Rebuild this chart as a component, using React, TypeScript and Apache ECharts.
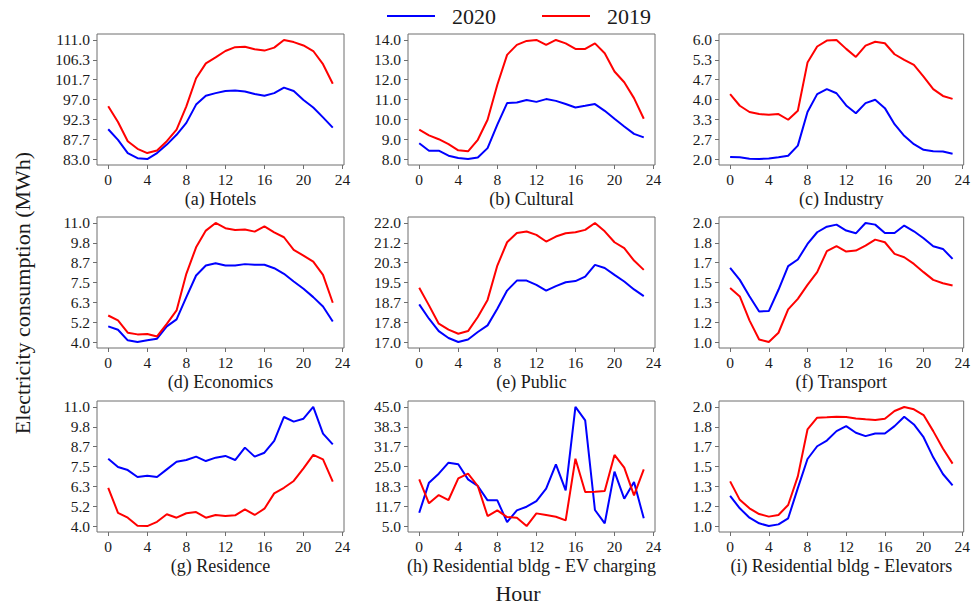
import React, { useEffect, useRef } from "react";
import * as echarts from "echarts";

// ---------------- DATA ----------------
const hours = [0, 1, 2, 3, 4, 5, 6, 7, 8, 9, 10, 11, 12, 13, 14, 15, 16, 17, 18, 19, 20, 21, 22, 23];
const xTicks = [0, 4, 8, 12, 16, 20, 24];
const seriesNames = ["2020", "2019"];

const panelTitles = [
  "(a) Hotels",
  "(b) Cultural",
  "(c) Industry",
  "(d) Economics",
  "(e) Public",
  "(f) Transport",
  "(g) Residence",
  "(h) Residential bldg - EV charging",
  "(i) Residential bldg - Elevators",
];

const hotels2020 = [90.0, 87.5, 84.4, 83.2, 83.0, 84.4, 86.4, 88.7, 91.5, 95.8, 97.9, 98.5, 99.0, 99.1, 98.9, 98.3, 97.9, 98.5, 99.8, 99.0, 96.9, 95.1, 92.8, 90.4];
const hotels2019 = [95.4, 91.7, 87.2, 85.4, 84.4, 85.0, 87.2, 89.9, 95.4, 102.0, 105.5, 106.9, 108.4, 109.3, 109.4, 108.8, 108.5, 109.2, 111.0, 110.5, 109.7, 108.4, 105.3, 100.7];
const hotelsTicks = ["83.0", "87.7", "92.3", "97.0", "101.7", "106.3", "111.0"];

const cultural2020 = [8.8, 8.42, 8.42, 8.17, 8.05, 8.0, 8.08, 8.55, 9.73, 10.82, 10.85, 10.97, 10.88, 11.02, 10.93, 10.77, 10.6, 10.68, 10.77, 10.43, 10.03, 9.64, 9.27, 9.09];
const cultural2019 = [9.48, 9.19, 9.0, 8.75, 8.44, 8.39, 8.97, 9.98, 11.74, 13.25, 13.75, 13.95, 14.0, 13.75, 14.0, 13.83, 13.55, 13.55, 13.83, 13.33, 12.41, 11.87, 11.07, 10.03];
const culturalTicks = ["8.0", "9.0", "10.0", "11.0", "12.0", "13.0", "14.0"];

const industry2020 = [2.07, 2.06, 2.01, 2.0, 2.02, 2.06, 2.11, 2.45, 3.58, 4.18, 4.35, 4.21, 3.8, 3.54, 3.88, 3.99, 3.71, 3.17, 2.78, 2.5, 2.31, 2.26, 2.25, 2.18];
const industry2019 = [4.18, 3.79, 3.58, 3.51, 3.49, 3.51, 3.32, 3.62, 5.24, 5.78, 5.98, 6.0, 5.7, 5.43, 5.81, 5.94, 5.89, 5.52, 5.33, 5.16, 4.77, 4.35, 4.12, 4.02];
const industryTicks = ["2.0", "2.7", "3.3", "4.0", "4.7", "5.3", "6.0"];

const economics2020 = [4.92, 4.72, 4.1, 4.0, 4.1, 4.2, 4.92, 5.33, 6.64, 7.91, 8.5, 8.63, 8.5, 8.5, 8.58, 8.54, 8.54, 8.34, 8.01, 7.56, 7.13, 6.64, 6.09, 5.21];
const economics2019 = [5.56, 5.27, 4.55, 4.45, 4.47, 4.33, 5.07, 5.86, 8.01, 9.57, 10.55, 11.0, 10.69, 10.59, 10.61, 10.49, 10.8, 10.45, 10.16, 9.42, 9.08, 8.73, 7.95, 6.31];
const economicsTicks = ["4.0", "5.2", "6.3", "7.5", "8.7", "9.8", "11.0"];

const public2020 = [18.58, 17.98, 17.46, 17.17, 17.0, 17.11, 17.42, 17.7, 18.4, 19.16, 19.58, 19.58, 19.4, 19.16, 19.35, 19.51, 19.56, 19.75, 20.24, 20.11, 19.82, 19.54, 19.21, 18.93];
const public2019 = [19.28, 18.54, 17.77, 17.52, 17.35, 17.46, 18.05, 18.77, 20.21, 21.19, 21.58, 21.64, 21.5, 21.22, 21.43, 21.57, 21.61, 21.71, 22.0, 21.65, 21.19, 20.94, 20.42, 20.03];
const publicTicks = ["17.0", "17.8", "18.7", "19.5", "20.3", "21.2", "22.0"];

const transport2020 = [1.623, 1.522, 1.385, 1.257, 1.26, 1.439, 1.637, 1.693, 1.824, 1.922, 1.969, 1.986, 1.936, 1.913, 2.0, 1.986, 1.916, 1.916, 1.978, 1.93, 1.872, 1.805, 1.782, 1.698];
const transport2019 = [1.453, 1.383, 1.182, 1.022, 1.0, 1.078, 1.274, 1.363, 1.48, 1.587, 1.763, 1.805, 1.76, 1.768, 1.81, 1.86, 1.838, 1.74, 1.712, 1.656, 1.587, 1.522, 1.494, 1.475];
const transportTicks = ["1.0", "1.2", "1.3", "1.5", "1.7", "1.8", "2.0"];

const residence2020 = [7.96, 7.47, 7.29, 6.88, 6.96, 6.88, 7.33, 7.78, 7.88, 8.08, 7.82, 8.02, 8.12, 7.88, 8.61, 8.08, 8.31, 9.0, 10.41, 10.14, 10.31, 11.0, 9.43, 8.8];
const residence2019 = [6.25, 4.78, 4.49, 4.02, 4.0, 4.25, 4.69, 4.49, 4.75, 4.82, 4.49, 4.65, 4.59, 4.63, 4.98, 4.65, 5.02, 5.92, 6.25, 6.65, 7.39, 8.18, 7.92, 6.61];
const residenceTicks = ["4.0", "5.2", "6.3", "7.5", "8.7", "9.8", "11.0"];

const ev2020 = [9.48, 19.57, 22.59, 26.29, 25.73, 20.69, 18.45, 13.63, 13.63, 6.34, 10.26, 11.5, 13.4, 17.55, 25.73, 16.99, 45.0, 40.52, 10.38, 5.9, 23.26, 14.19, 19.79, 7.58];
const ev2019 = [20.69, 12.62, 15.42, 13.74, 21.02, 22.59, 18.45, 8.36, 10.26, 8.02, 7.8, 5.0, 9.26, 8.7, 8.14, 6.9, 27.63, 16.43, 16.54, 16.76, 28.87, 24.61, 15.31, 24.05];
const evTicks = ["5.0", "11.7", "18.3", "25.0", "31.7", "38.3", "45.0"];

const elevators2020 = [1.254, 1.149, 1.07, 1.023, 1.0, 1.014, 1.065, 1.318, 1.563, 1.67, 1.718, 1.797, 1.839, 1.783, 1.755, 1.777, 1.777, 1.839, 1.918, 1.853, 1.746, 1.577, 1.437, 1.341];
const elevators2019 = [1.375, 1.22, 1.149, 1.101, 1.079, 1.093, 1.177, 1.417, 1.811, 1.91, 1.913, 1.918, 1.915, 1.904, 1.896, 1.89, 1.901, 1.966, 2.0, 1.98, 1.932, 1.797, 1.651, 1.524];
const elevatorsTicks = ["1.0", "1.2", "1.3", "1.5", "1.7", "1.8", "2.0"];

const values2020 = [hotels2020, cultural2020, industry2020, economics2020, public2020, transport2020, residence2020, ev2020, elevators2020];
const values2019 = [hotels2019, cultural2019, industry2019, economics2019, public2019, transport2019, residence2019, ev2019, elevators2019];
const yTickLabels = [hotelsTicks, culturalTicks, industryTicks, economicsTicks, publicTicks, transportTicks, residenceTicks, evTicks, elevatorsTicks];

// ---------------- STYLE / LAYOUT ----------------
const FONT = '"Liberation Serif", "Times New Roman", serif';
const TEXT = "#1a1a1a";
const FRAME = "#6e6e6e";
const BLUE = "#0000ff";
const RED = "#ff0000";
const colLefts = [97, 408, 719];
const rowTops = [34, 217, 401];
const PW = 247;
const PH = 131;

function buildOption() {
  const grids: any[] = [];
  const xAxes: any[] = [];
  const yAxes: any[] = [];
  const series: any[] = [];

  for (let i = 0; i < 9; i++) {
    const r = Math.floor(i / 3);
    const c = i % 3;
    grids.push({
      left: colLefts[c],
      top: rowTops[r],
      width: PW,
      height: PH,
      show: true,
      borderColor: FRAME,
      borderWidth: 1,
      backgroundColor: "transparent",
    });

    const labels = yTickLabels[i];
    const lo = parseFloat(labels[0]);
    const hi = parseFloat(labels[labels.length - 1]);
    const n = labels.length - 1;
    const tickPos = labels.map((_, k) => lo + ((hi - lo) * k) / n);
    const pad = (hi - lo) * 0.05;

    xAxes.push({
      gridIndex: i,
      type: "value",
      min: -1.15,
      max: 24.15,
      axisLine: { show: false, onZero: false },
      axisTick: { show: true, length: 4, customValues: xTicks, lineStyle: { color: FRAME, width: 1 } },
      axisLabel: {
        customValues: xTicks,
        margin: 6,
        fontSize: 15.5,
        color: TEXT,
        fontFamily: FONT,
      },
      splitLine: { show: false },
      name: panelTitles[i],
      nameLocation: "middle",
      nameGap: 25,
      nameTextStyle: { fontSize: 18, color: TEXT, fontFamily: FONT },
    });

    yAxes.push({
      gridIndex: i,
      type: "value",
      min: lo - pad,
      max: hi + pad,
      axisLine: { show: false, onZero: false },
      axisTick: { show: true, length: 4, customValues: tickPos, lineStyle: { color: FRAME, width: 1 } },
      axisLabel: {
        customValues: tickPos,
        margin: 7,
        fontSize: 15.5,
        color: TEXT,
        fontFamily: FONT,
        formatter: (v: number) => {
          let best = 0;
          let bd = Infinity;
          tickPos.forEach((p, k) => {
            const d = Math.abs(p - v);
            if (d < bd) {
              bd = d;
              best = k;
            }
          });
          return labels[best];
        },
      },
      splitLine: { show: false },
    });

    series.push({
      name: seriesNames[0],
      type: "line",
      xAxisIndex: i,
      yAxisIndex: i,
      data: hours.map((h, k) => [h, values2020[i][k]]),
      symbol: "none",
      smooth: false,
      lineStyle: { color: BLUE, width: 2 },
      itemStyle: { color: BLUE },
    });
    series.push({
      name: seriesNames[1],
      type: "line",
      xAxisIndex: i,
      yAxisIndex: i,
      data: hours.map((h, k) => [h, values2019[i][k]]),
      symbol: "none",
      smooth: false,
      lineStyle: { color: RED, width: 2 },
      itemStyle: { color: RED },
    });
  }

  return {
    animation: false,
    backgroundColor: "#ffffff",
    legend: {
      data: seriesNames,
      icon: "rect",
      left: 387,
      top: 5,
      itemWidth: 48,
      itemHeight: 2,
      itemGap: 46,
      padding: 0,
      textStyle: { fontSize: 22, color: TEXT, fontFamily: FONT, padding: [0, 0, 0, 12] },
    },
    grid: grids,
    xAxis: xAxes,
    yAxis: yAxes,
    series,
    graphic: [
      {
        type: "text",
        x: 518,
        y: 593,
        style: {
          text: "Hour",
          align: "center",
          verticalAlign: "middle",
          fontSize: 22,
          fontFamily: FONT,
          fill: TEXT,
        },
      },
      {
        type: "text",
        x: 22,
        y: 293,
        rotation: Math.PI / 2,
        style: {
          text: "Electricity consumption (MWh)",
          align: "center",
          verticalAlign: "middle",
          fontSize: 22,
          fontFamily: FONT,
          fill: TEXT,
        },
      },
    ],
  };
}

export default function App() {
  const ref = useRef<HTMLDivElement>(null);
  useEffect(() => {
    document.body.style.margin = "0";
    if (!ref.current) return;
    const chart = echarts.init(ref.current, undefined, { renderer: "svg" });
    chart.setOption(buildOption() as any);
    return () => {
      chart.dispose();
    };
  }, []);
  return <div ref={ref} style={{ width: 973, height: 608 }} />;
}
